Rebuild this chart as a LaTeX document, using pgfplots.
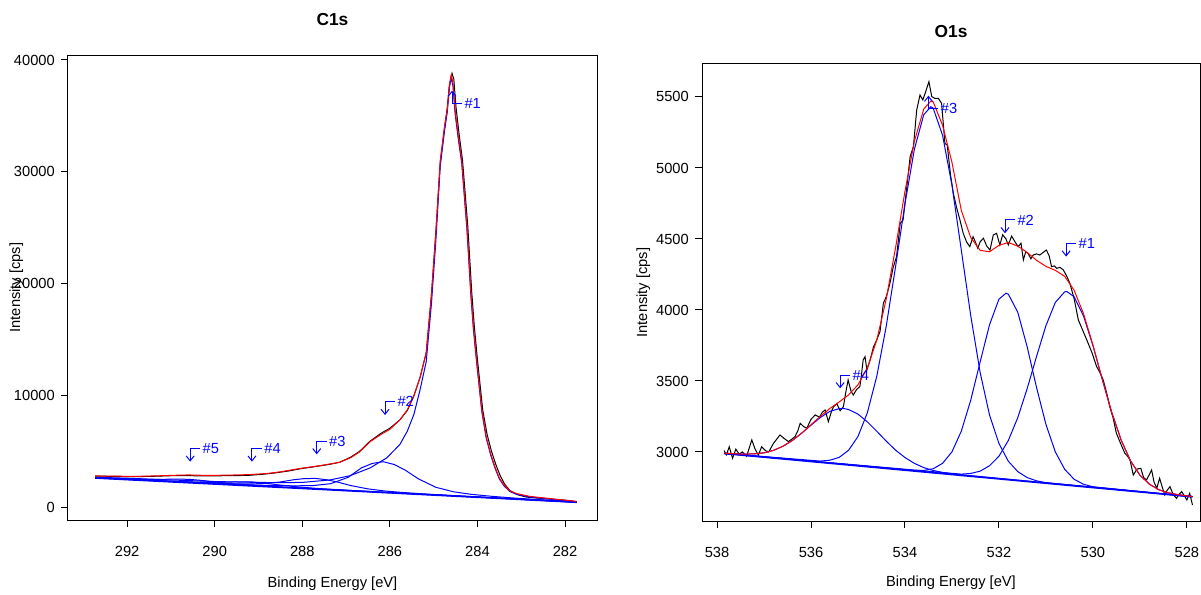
\documentclass[border=0pt]{standalone}
\usepackage{fontspec}
\setmainfont{Liberation Sans}
\usepackage{pgfplots}
\pgfplotsset{compat=1.18}
\usetikzlibrary{arrows.meta}

\pgfplotsset{
  xpsax/.style={
    scale only axis, anchor=south west,
    x dir=reverse,
    axis line style={line width=0.75pt},
    tick style={line width=0.75pt, black},
    tick align=outside,
    major tick length=5.25pt,
    tick pos=left,
    scaled ticks=false,
    /pgf/number format/1000 sep={},
    /pgf/number format/assume math mode=true,
    tick label style={font=\fontsize{11}{13}\selectfont},
    label style={font=\fontsize{11}{13}\selectfont},
    yticklabel style={anchor=east, inner sep=0pt, xshift=-4.5pt},
    xticklabel style={anchor=base, inner sep=0pt, yshift=-21.75pt},
    clip=true,
  },
}
\tikzset{
  xraw/.style={black, line width=0.75pt},
  xfit/.style={red, line width=0.75pt},
  xcomp/.style={blue, line width=0.75pt},
  xbline/.style={blue, line width=1.3pt},
  xannot/.style={blue, line width=0.75pt},
}
\newcommand{\pkdn}[3]{%
  \draw[xannot,-{Straight Barb[length=3.75pt,width=6pt]}] (axis cs:#1,#2) -- ++(0pt,-10pt);
  \draw[xannot] (axis cs:#1,#2) -- ++(7.5pt,0pt) node[right,inner sep=1.5pt,text=blue,font=\fontsize{11}{13}\selectfont]{#3};}
\newcommand{\pkup}[3]{%
  \draw[xannot,-{Straight Barb[length=3.75pt,width=6pt]}] (axis cs:#1,#2) -- ++(0pt,9.5pt);
  \draw[xannot] (axis cs:#1,#2) -- ++(7.5pt,0pt) node[right,inner sep=1.5pt,text=blue,font=\fontsize{11}{13}\selectfont]{#3};}

\begin{document}
\begin{tikzpicture}
\path (0pt,0pt) rectangle (900.75pt,444.75pt);

% ---------------- C1s ----------------
\begin{axis}[xpsax,
  at={(51pt,54.75pt)},
  width=396.75pt, height=348.75pt,
  xmin=281.27, xmax=293.35, ymin=-1163, ymax=40447,
  xtick={282,284,...,292}, ytick={0,10000,...,40000},
  title={C1s},
  title style={at={(axis description cs:0.5,1.0452)}, anchor=base, yshift=0pt, font=\bfseries\fontsize{13}{15}\selectfont},
  xlabel={Binding Energy [eV]},
  xlabel style={at={(axis description cs:0.5,-0.1441)}, anchor=base},
  ylabel={Intensity [cps]},
  ylabel style={at={(axis description cs:-0.0907,0.5)}, anchor=base},
]
\addplot[xraw] coordinates {
(292.73,2760) (292.4,2750) (292.0,2720) (291.6,2730) (291.3,2760) (291.0,2800)
(290.7,2820) (290.4,2790) (290.1,2780) (289.8,2800) (289.5,2810) (289.2,2840)
(288.9,2930) (288.6,3060) (288.3,3230) (288.05,3420) (287.8,3560) (287.6,3680)
(287.4,3800) (287.15,4000) (286.9,4450) (286.7,4950) (286.45,5900) (286.2,6600)
(286.0,7050) (285.77,7800) (285.6,8650) (285.45,9950) (285.31,11600) (285.17,13800)
(285.05,19000) (284.95,24600) (284.85,30800) (284.75,34000) (284.69,35700)
(284.64,37700) (284.58,38800) (284.54,38300) (284.49,35800) (284.42,33400)
(284.34,31000) (284.22,25100) (284.13,19200) (284.07,16100) (284.0,13200)
(283.88,8700) (283.78,6500) (283.68,5000) (283.58,3800) (283.48,2800)
(283.38,2050) (283.26,1480) (283.1,1120) (282.9,900) (282.7,820) (282.5,760)
(282.3,690) (282.1,640) (281.9,560) (281.73,470)
};
\addplot[xbline] coordinates {(292.73,2600) (281.73,430)};
\addplot[xcomp] coordinates {
(292.73,2660) (292.0,2580) (291.0,2420) (290.0,2280) (289.5,2240) (289.0,2200)
(288.5,2180) (288.0,2200) (287.37,2420) (286.91,2800) (286.45,3500) (286.07,4400)
(285.77,5600) (285.6,6800) (285.45,8300) (285.31,10500) (285.17,13000)
(285.05,18200) (284.95,23800) (284.85,30500) (284.75,33700) (284.69,35300)
(284.64,37550) (284.6,38400) (284.56,37700) (284.51,35200) (284.44,33000)
(284.36,30800) (284.24,24850) (284.15,18920) (284.09,15800) (284.02,12980)
(283.9,8530) (283.8,6170) (283.7,4680) (283.6,3490) (283.5,2510) (283.4,1920)
(283.26,1380) (283.1,1130) (282.8,890) (282.4,730) (282.0,590) (281.73,470)
};
\addplot[xcomp] coordinates {
(292.73,2630) (291.0,2309) (290.0,2122) (289.15,1974) (288.65,1915) (288.15,1897)
(287.75,1918) (287.35,2089) (286.95,2660) (286.65,3501) (286.4,3901) (286.15,4052)
(285.9,3803) (285.65,3303) (285.35,2524) (284.95,1765) (284.55,1366) (284.15,1137)
(283.65,949) (283.15,800) (282.5,632) (281.73,460)
};
\addplot[xcomp] coordinates {
(292.73,2610) (291.2,2322) (290.2,2153) (289.7,2088) (289.3,2059) (288.9,2095)
(288.5,2241) (288.2,2437) (287.95,2543) (287.7,2558) (287.45,2444) (287.2,2239)
(286.9,1925) (286.5,1621) (286.1,1427) (285.7,1298) (285.2,1167) (284.2,941)
(282.7,631) (281.73,435)
};
\addplot[xcomp] coordinates {
(292.73,2615) (291.65,2412) (290.65,2250) (290.15,2211) (289.75,2222) (289.45,2253)
(289.15,2244) (288.85,2135) (288.55,1986) (288.15,1817) (287.65,1658) (286.65,1426)
(281.73,430)
};
\addplot[xcomp] coordinates {
(292.73,2625) (292.1,2536) (291.6,2480) (291.2,2478) (290.9,2497) (290.6,2480)
(290.3,2381) (290.0,2242) (289.6,2083) (289.1,1944) (288.1,1712) (281.73,430)
};
\addplot[xfit] coordinates {
(292.73,2780) (292.3,2760) (291.8,2740) (291.3,2790) (290.9,2840) (290.6,2870)
(290.3,2840) (289.9,2840) (289.5,2870) (289.2,2900) (288.8,3000) (288.5,3150)
(288.05,3450) (287.6,3700) (287.15,4000) (286.9,4400) (286.7,4900) (286.45,5850)
(286.2,6500) (286.0,6950) (285.77,7800) (285.6,8700) (285.45,10000) (285.31,11600)
(285.17,13800) (285.05,19000) (284.95,24500) (284.85,31000) (284.75,34100)
(284.69,35540) (284.64,37800) (284.6,38650) (284.56,38000) (284.51,35540)
(284.44,33300) (284.36,31070) (284.24,25090) (284.15,19130) (284.09,16000)
(284.02,13160) (283.9,8680) (283.8,6300) (283.7,4800) (283.6,3600) (283.5,2600)
(283.4,2000) (283.26,1450) (283.1,1200) (282.8,950) (282.4,780) (282.0,620)
(281.73,500)
};
\pkup{284.58}{36125}{\#1}
\pkdn{286.11}{9423}{\#2}
\pkdn{287.67}{5906}{\#3}
\pkdn{289.15}{5253}{\#4}
\pkdn{290.56}{5253}{\#5}
\end{axis}

% ---------------- O1s ----------------
\begin{axis}[xpsax,
  at={(526.5pt,54pt)},
  width=373.5pt, height=342.75pt,
  xmin=527.72, xmax=538.32, ymin=2514, ymax=5732,
  xtick={528,530,...,538}, ytick={3000,3500,...,5500},
  title={O1s},
  title style={at={(axis description cs:0.5,1.0394)}, anchor=base, yshift=0pt, font=\bfseries\fontsize{13}{15}\selectfont},
  xlabel={Binding Energy [eV]},
  xlabel style={at={(axis description cs:0.5,-0.1444)}, anchor=base},
  ylabel={Intensity [cps]},
  ylabel style={at={(axis description cs:-0.1104,0.5)}, anchor=base},
]
\addplot[xraw] coordinates {
(537.85,3010) (537.80,2980) (537.74,3037) (537.67,2956) (537.60,3020) (537.53,2986)
(537.46,3000) (537.37,2970) (537.26,3085) (537.19,3020) (537.12,2979) (537.05,3037)
(536.97,3010) (536.90,3000) (536.80,3060) (536.73,3090) (536.66,3120) (536.57,3095)
(536.48,3073) (536.41,3090) (536.34,3108) (536.28,3150) (536.23,3202) (536.16,3180)
(536.09,3167) (536.00,3230) (535.91,3261) (535.82,3245) (535.76,3280) (535.70,3296)
(535.63,3214) (535.56,3290) (535.52,3319) (535.45,3340) (535.38,3290) (535.31,3319)
(535.26,3420) (535.21,3507) (535.15,3430) (535.10,3401) (535.03,3440) (534.96,3460)
(534.92,3560) (534.89,3648) (534.85,3671) (534.81,3577) (534.74,3650) (534.67,3741)
(534.60,3789) (534.53,3850) (534.46,4047) (534.39,4100) (534.32,4188) (534.25,4300)
(534.18,4375) (534.10,4610) (534.04,4634) (533.96,4868) (533.89,5080) (533.82,5150)
(533.75,5408) (533.68,5514) (533.62,5479) (533.57,5526) (533.49,5608) (533.43,5502)
(533.36,5490) (533.29,5490) (533.22,5455) (533.15,5174) (533.10,5160) (533.03,4950)
(532.97,4822) (532.90,4720) (532.83,4634) (532.76,4540) (532.69,4480) (532.62,4446)
(532.55,4516) (532.49,4470) (532.45,4435) (532.40,4480) (532.33,4505) (532.26,4450)
(532.19,4422) (532.12,4528) (532.05,4540) (531.98,4458) (531.92,4530) (531.85,4500)
(531.80,4458) (531.73,4520) (531.66,4481) (531.59,4446) (531.53,4470) (531.48,4352)
(531.43,4410) (531.38,4399) (531.32,4360) (531.27,4387) (531.20,4395) (531.13,4387)
(531.06,4405) (530.99,4422) (530.93,4380) (530.88,4305) (530.82,4310) (530.77,4293)
(530.70,4300) (530.63,4282) (530.56,4240) (530.49,4188) (530.40,4080) (530.31,3930)
(530.22,3860) (530.13,3789) (530.02,3700) (529.92,3601) (529.85,3560) (529.78,3507)
(529.71,3420) (529.64,3319) (529.57,3240) (529.50,3132) (529.41,3060) (529.32,2991)
(529.26,2970) (529.21,2944) (529.14,2838) (529.06,2880) (528.98,2885) (528.92,2820)
(528.86,2803) (528.80,2840) (528.75,2873) (528.70,2790) (528.64,2744) (528.58,2815)
(528.53,2760) (528.47,2697) (528.42,2730) (528.36,2756) (528.29,2700) (528.22,2674)
(528.17,2700) (528.11,2721) (528.05,2690) (528.00,2662) (527.94,2709) (527.88,2627)
};
\addplot[xbline] coordinates {(537.85,2990) (527.88,2685)};
\addplot[xcomp] coordinates {
(537.85,2991) (537.6,2987) (537.4,2985) (537.2,2987) (537.0,2994) (536.8,3011)
(536.6,3040) (536.4,3080) (536.2,3132) (536.0,3189) (535.8,3243) (535.6,3286)
(535.4,3305) (535.3,3306) (535.2,3299) (535.0,3267) (534.8,3212) (534.6,3146)
(534.4,3077) (534.2,3013) (534.0,2961) (533.8,2920) (533.6,2890) (533.4,2870)
(533.2,2856) (533.0,2846) (527.88,2685)
};
\addplot[xcomp] coordinates {
(537.85,2990) (535.8,2936) (535.6,2942) (535.4,2962) (535.2,3012) (535.0,3109)
(534.8,3277) (534.6,3533) (534.4,3883) (534.2,4305) (534.0,4747) (533.8,5131)
(533.6,5375) (533.45,5431) (533.4,5422) (533.2,5230) (533.0,4880) (532.8,4420)
(532.6,3960) (532.4,3560) (532.2,3260) (532.0,3060) (531.8,2935) (531.6,2862)
(531.4,2820) (531.2,2797) (531.0,2784) (527.88,2685)
};
\addplot[xcomp] coordinates {
(537.85,2990) (533.8,2870) (533.6,2870) (533.4,2882) (533.2,2920) (533.0,3001)
(532.8,3147) (532.6,3365) (532.4,3634) (532.2,3896) (532.0,4076) (531.85,4118)
(531.8,4111) (531.6,3985) (531.4,3742) (531.2,3455) (531.0,3195) (530.8,3001)
(530.6,2878) (530.4,2808) (530.2,2773) (530.0,2755) (527.88,2685)
};
\addplot[xcomp] coordinates {
(537.85,2990) (532.8,2844) (532.6,2849) (532.4,2865) (532.2,2903) (532.0,2970)
(531.8,3081) (531.6,3241) (531.4,3445) (531.2,3672) (531.0,3889) (530.8,4053)
(530.6,4128) (530.55,4129) (530.4,4093) (530.2,3958) (530.0,3750) (529.8,3511)
(529.6,3280) (529.4,3085) (529.2,2938) (529.0,2837) (528.8,2774) (528.6,2735)
(528.4,2713) (528.2,2700) (527.88,2686)
};
\addplot[xfit] coordinates {
(537.85,2992) (537.6,2987) (537.4,2985) (537.2,2987) (537.0,2994) (536.8,3011)
(536.6,3040) (536.4,3080) (536.2,3132) (536.0,3192) (535.8,3251) (535.6,3306)
(535.4,3352) (535.2,3402) (535.0,3473) (534.8,3592) (534.6,3788) (534.4,4075)
(534.2,4439) (534.0,4835) (533.8,5187) (533.6,5415) (533.45,5471) (533.4,5466)
(533.2,5300) (533.0,5040) (532.8,4700) (532.6,4510) (532.4,4420) (532.2,4410)
(532.0,4455) (531.8,4475) (531.6,4450) (531.4,4405) (531.2,4350) (531.0,4307)
(530.8,4279) (530.6,4237) (530.4,4139) (530.2,3975) (530.0,3755) (529.8,3511)
(529.6,3280) (529.4,3085) (529.2,2938) (529.0,2837) (528.8,2774) (528.6,2735)
(528.4,2713) (528.2,2700) (528.0,2691) (527.88,2686)
};
\pkdn{530.57}{4470}{\#1}
\pkdn{531.87}{4634}{\#2}
\pkup{533.5}{5420}{\#3}
\pkdn{535.38}{3542}{\#4}
\end{axis}
\end{tikzpicture}
\end{document}
